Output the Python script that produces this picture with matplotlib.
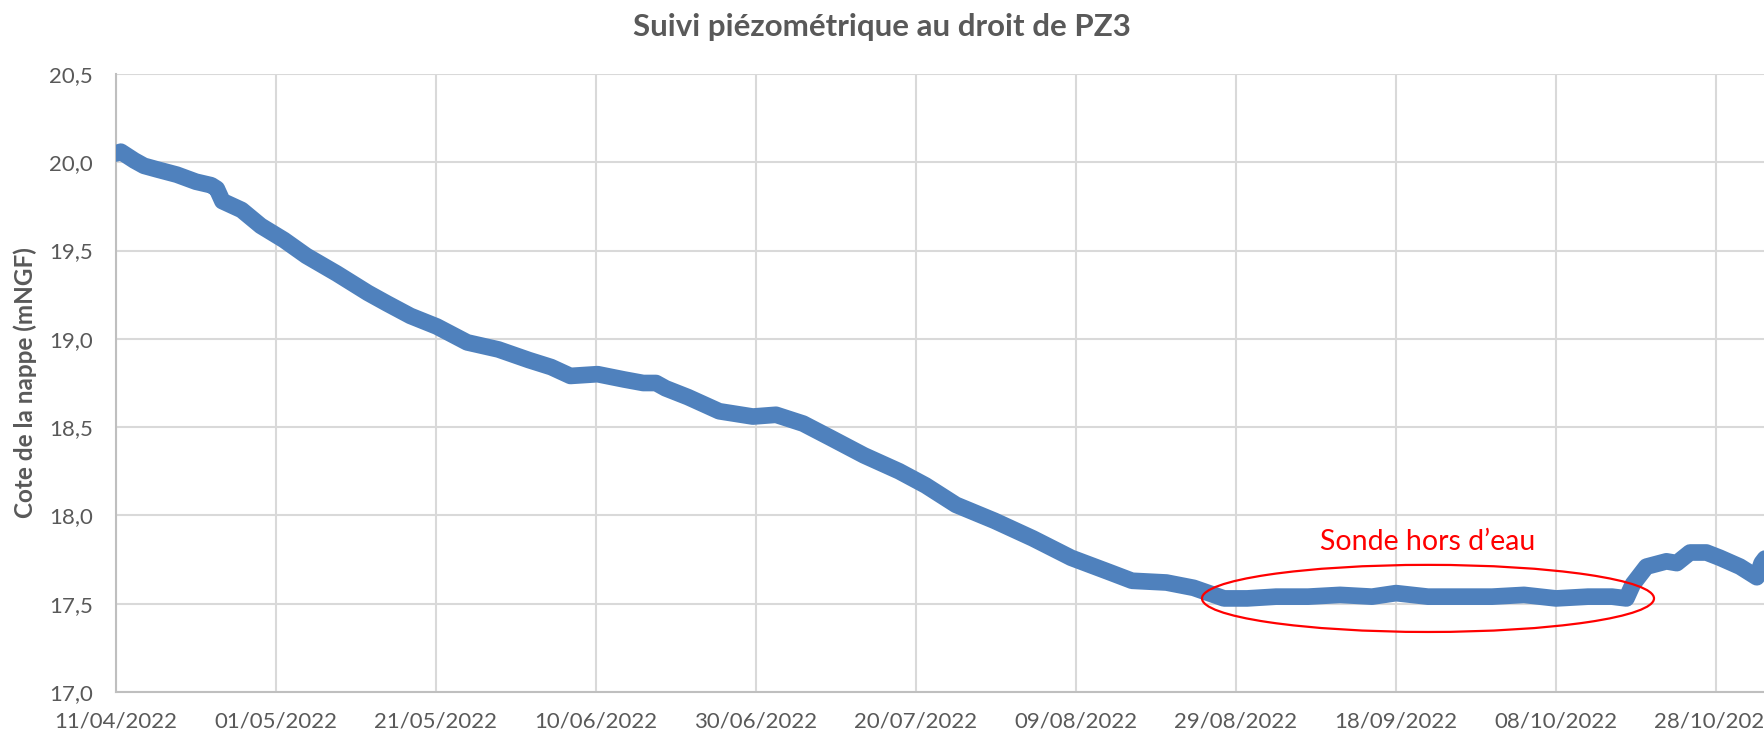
import numpy as np
import pandas as pd
import matplotlib
matplotlib.use("Agg")
import matplotlib.pyplot as plt
import matplotlib.dates as mdates
from matplotlib.patches import Ellipse

plt.rcParams['font.family'] = ['Lato', 'DejaVu Sans']

start = pd.Timestamp('2022-04-11')

# days since 11/04/2022 and water level (mNGF)
days = [0, 0.6, 2.3, 3.5, 5.1, 7.6, 10, 11.9, 12.6, 13.3, 15.7, 18.1, 21,
        23.8, 27.6, 31.5, 33.9, 36.8, 40.1, 43.9, 47.8, 51.6, 54.4, 56.8,
        60.2, 63.5, 65.9, 67.5, 68.7, 71.5, 75.4, 79.6, 82.5, 85.9, 89.3,
        93.5, 97.9, 101.2, 105, 109.8, 114.6, 119.4, 124.1, 127, 131.3,
        134.7, 138.5, 141.4, 145, 149, 153, 157, 160, 162, 164, 168, 172,
        176, 180, 184, 187, 188.8, 189.6, 191.3, 193.8, 195.1, 196.75,
        198.8, 200.5, 203, 205.1, 205.7, 206.2]
level = [20.05, 20.06, 20.01, 19.98, 19.96, 19.93, 19.89, 19.87, 19.85,
         19.78, 19.73, 19.64, 19.56, 19.47, 19.37, 19.26, 19.20, 19.13,
         19.07, 18.98, 18.94, 18.88, 18.84, 18.79, 18.80, 18.77, 18.75,
         18.75, 18.72, 18.67, 18.59, 18.56, 18.57, 18.52, 18.44, 18.34,
         18.25, 18.17, 18.06, 17.97, 17.87, 17.76, 17.68, 17.63, 17.62,
         17.59, 17.53, 17.53, 17.54, 17.54, 17.55, 17.54, 17.56, 17.55,
         17.54, 17.54, 17.54, 17.55, 17.53, 17.54, 17.54, 17.53, 17.61,
         17.71, 17.74, 17.73, 17.79, 17.79, 17.76, 17.71, 17.65, 17.73,
         17.76]

x_ticks = [start + pd.Timedelta(days=20 * i) for i in range(11)]
y_ticks = [17.0, 17.5, 18.0, 18.5, 19.0, 19.5, 20.0, 20.5]

dates = [start + pd.Timedelta(days=d) for d in days]

fig = plt.figure(figsize=(17.64, 7.36), dpi=100)
ax = fig.add_axes([116 / 1764, 44 / 736, 1 - 116 / 1764, 618 / 736])

ax.plot(dates, level, color='#4F81BD', lw=12, solid_capstyle='round',
        solid_joinstyle='round', zorder=3)

ax.set_xlim(start, start + pd.Timedelta(days=206))
ax.set_ylim(17.0, 20.5)
ax.set_xticks(x_ticks)
ax.set_yticks(y_ticks)
ax.xaxis.set_major_formatter(mdates.DateFormatter('%d/%m/%Y'))
ax.set_yticklabels([f'{v:.1f}'.replace('.', ',') for v in y_ticks])
ax.tick_params(length=0, labelsize=16, labelcolor='#595959')
ax.tick_params(axis='x', pad=14)
ax.tick_params(axis='y', pad=16.5)

ax.grid(True, color='#D9D9D9', lw=1.5)
ax.set_axisbelow(True)
for s in ['top', 'right']:
    ax.spines[s].set_visible(False)
for s in ['left', 'bottom']:
    ax.spines[s].set_color('#BFBFBF')
    ax.spines[s].set_linewidth(1.5)

ax.set_ylabel('Cote de la nappe (mNGF)', fontsize=17.5, fontweight='bold',
              color='#595959', labelpad=9)
fig.text(0.5, 1 - 27 / 736, 'Suivi piézométrique au droit de PZ3',
         ha='center', va='center', fontsize=22.5, fontweight='bold',
         color='#595959')

# annotation: probe out of the water
ell_center = start + pd.Timedelta(days=164)
ax.add_patch(Ellipse((mdates.date2num(ell_center), 17.53), width=56.5,
                     height=0.38, fill=False, edgecolor='#FF0000', lw=1.6,
                     zorder=4))
ax.text(ell_center, 17.85, 'Sonde hors d’eau', color='#FF0000', fontsize=20.5,
        fontweight='normal', ha='center', va='center')

fig.savefig('out.png', dpi=100)
